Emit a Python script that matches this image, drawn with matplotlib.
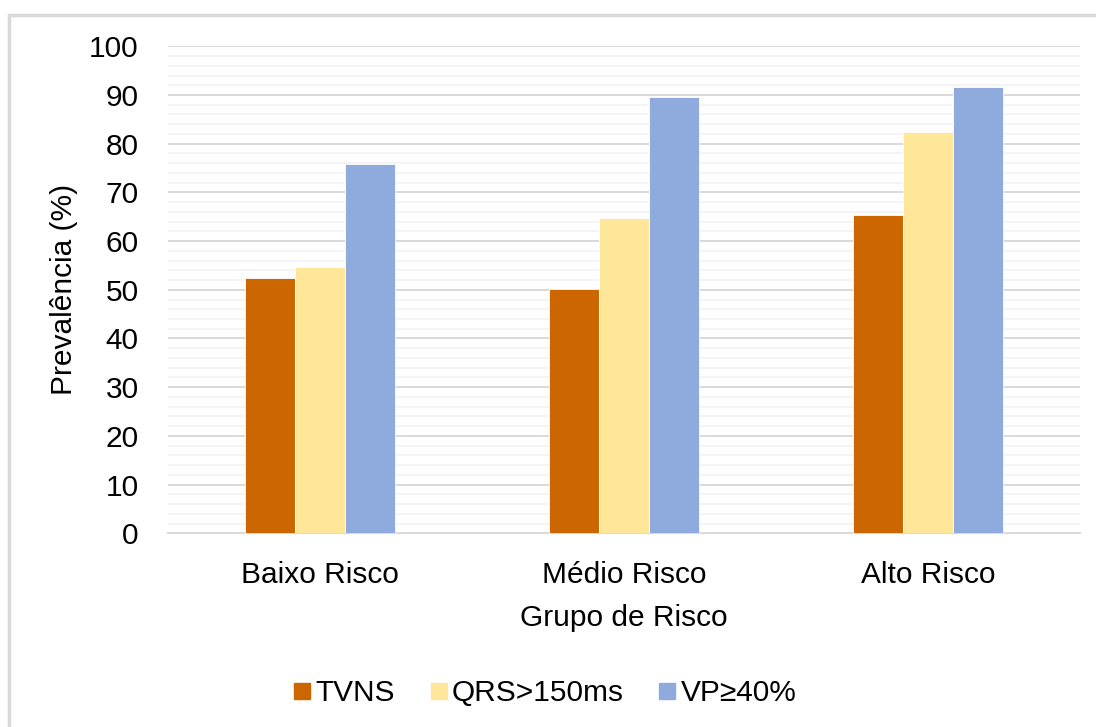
import matplotlib
matplotlib.use("Agg")
import matplotlib.pyplot as plt
import numpy as np
from matplotlib.lines import Line2D
from matplotlib.patches import Rectangle

categories = ["Baixo Risco", "Médio Risco", "Alto Risco"]
series_names = ["TVNS", "QRS>150ms", "VP≥40%"]
tvns = [52.4, 50.1, 65.4]
qrs = [54.7, 64.8, 82.4]
vp = [75.8, 89.5, 91.6]
colors = ["#CC6600", "#FFE699", "#8FAADC"]
y_ticks = list(range(0, 101, 10))

plt.rcParams["font.family"] = ["Liberation Sans", "DejaVu Sans"]
FS = 21.5

fig = plt.figure(figsize=(10.96, 7.27), dpi=100)
ax = fig.add_axes([168 / 1096, 1 - 533.3 / 727, (1080 - 168) / 1096, (533.3 - 46.3) / 727])

# outer chart frame
fig.patches.append(Rectangle((9 / 1096, -0.05), 1.2, 1 - 15 / 727 + 0.05,
                             transform=fig.transFigure, fill=False,
                             edgecolor="#d9d9d9", linewidth=2.5, zorder=0))

x = np.arange(len(categories))
w = 50 / 304
for i, (vals, c) in enumerate(zip([tvns, qrs, vp], colors)):
    ax.bar(x + (i - 1) * w, vals, width=w, color=c, edgecolor="white",
           linewidth=0.6, zorder=3)

ax.set_xlim(-0.5, len(categories) - 0.5)
ax.set_ylim(0, 100)
ax.set_yticks(y_ticks)
ax.set_yticks(np.arange(0, 101, 2), minor=True)
ax.grid(axis="y", which="major", color="#d9d9d9", linewidth=1.4, zorder=1)
ax.grid(axis="y", which="minor", color="#f2f2f2", linewidth=1.2, zorder=0)
ax.grid(axis="x", visible=False)
for s in ["top", "right", "left"]:
    ax.spines[s].set_visible(False)
ax.spines["bottom"].set_color("#d9d9d9")
ax.spines["bottom"].set_linewidth(1.4)
ax.spines["bottom"].set_zorder(2)

ax.set_xticks(x)
ax.set_xticklabels(categories, fontsize=FS)
ax.tick_params(axis="x", length=0, pad=20)
ax.tick_params(axis="y", which="both", length=0, pad=21, labelsize=FS)

ax.set_ylabel("Prevalência (%)", fontsize=FS, labelpad=8)
ax.set_xlabel("Grupo de Risco", fontsize=FS, labelpad=11)

handles = [Line2D([], [], marker="s", linestyle="none", markersize=11.5,
                  markerfacecolor=c, markeredgecolor=c) for c in colors]
fig.legend(handles, series_names, loc="center", ncol=3,
           bbox_to_anchor=(545 / 1096, 1 - 693 / 727), frameon=False,
           fontsize=FS, handlelength=0.6, handletextpad=0.15,
           columnspacing=1.15)

fig.savefig("out.png", dpi=100, facecolor="white")
